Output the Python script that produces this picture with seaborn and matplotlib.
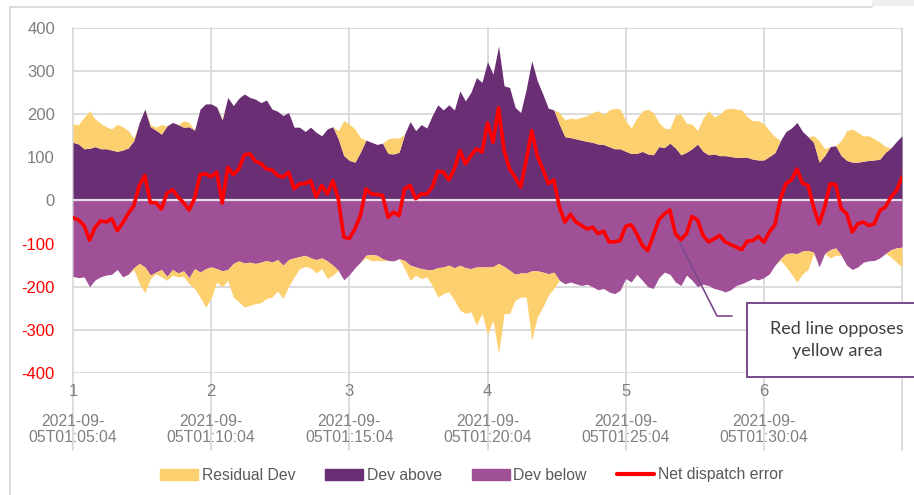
import numpy as np
import pandas as pd
import matplotlib
matplotlib.use("Agg")
import matplotlib.pyplot as plt
from matplotlib.patches import Patch, Rectangle
from matplotlib.lines import Line2D
import seaborn as sns

# ------------------------------------------------------------------
# data: 25 samples per 5-minute block, blocks 1..6
# ------------------------------------------------------------------
tick_nums = ["1", "2", "3", "4", "5", "6"]
tick_times = ["2021-09-\n05T01:05:04", "2021-09-\n05T01:10:04", "2021-09-\n05T01:15:04",
              "2021-09-\n05T01:20:04", "2021-09-\n05T01:25:04", "2021-09-\n05T01:30:04"]

# upper edge of "Dev above" (dark purple)
dev_above = [
    135, 131, 120, 121, 125, 120, 120, 117, 114, 117, 122, 139, 181, 212, 171, 163, 154, 173, 181, 176, 170, 171, 163, 212, 224,
    224, 217, 187, 239, 220, 237, 247, 239, 235, 227, 233, 212, 207, 197, 204, 170, 170, 160, 170, 158, 150, 166, 171, 143, 104,
    93, 89, 112, 140, 135, 130, 133, 109, 108, 112, 154, 183, 162, 176, 168, 197, 222, 210, 222, 210, 254, 231, 251, 285, 274,
    322, 293, 358, 266, 262, 216, 204, 258, 324, 278, 247, 214, 210, 177, 148, 146, 143, 140, 137, 135, 131, 130, 125, 120, 120,
    114, 109, 109, 114, 108, 106, 125, 123, 133, 122, 106, 112, 120, 131, 114, 106, 108, 104, 104, 102, 100, 100, 100, 96, 94,
    94, 102, 111, 139, 160, 168, 181, 160, 148, 135, 89, 104, 125, 127, 104, 93, 89, 89, 91, 93, 94, 96, 112, 122, 137, 150,
]
# upper edge of the yellow "Residual Dev" band (stacked on Dev above)
resid_top = [
    177, 176, 193, 208, 189, 179, 171, 166, 177, 171, 162, 145, 181, 212, 176, 170, 176, 173, 181, 176, 185, 181, 163, 212, 224,
    224, 217, 190, 239, 220, 237, 247, 239, 235, 227, 233, 212, 207, 197, 204, 170, 170, 160, 170, 158, 150, 166, 171, 162, 185,
    177, 166, 146, 140, 135, 130, 133, 143, 145, 145, 154, 183, 162, 176, 168, 197, 222, 210, 222, 210, 254, 231, 251, 285, 274,
    322, 293, 358, 266, 262, 216, 204, 258, 324, 278, 247, 214, 210, 204, 187, 191, 189, 193, 197, 204, 208, 199, 210, 214, 212,
    185, 168, 191, 207, 212, 204, 181, 168, 166, 199, 200, 179, 177, 162, 191, 208, 194, 200, 212, 214, 212, 210, 194, 185, 185,
    178, 162, 148, 139, 160, 168, 181, 160, 148, 150, 139, 120, 125, 127, 139, 162, 166, 158, 150, 150, 143, 135, 125, 122, 137, 150,
]
# lower edge of "Dev below" (light purple)
dev_below = [
    -176, -179, -177, -200, -184, -177, -173, -171, -160, -177, -171, -156, -146, -154, -173, -166, -160, -176, -160, -168, -163, -179, -158, -166, -158,
    -154, -158, -163, -160, -146, -140, -145, -143, -146, -143, -139, -143, -137, -150, -137, -133, -130, -127, -133, -137, -133, -140, -150, -162, -184,
    -172, -156, -143, -127, -125, -127, -135, -139, -140, -135, -139, -150, -154, -158, -160, -160, -156, -154, -150, -156, -150, -156, -158, -154, -154,
    -154, -153, -146, -153, -162, -171, -168, -168, -163, -163, -166, -170, -166, -185, -193, -189, -193, -197, -194, -200, -207, -204, -212, -216, -208,
    -181, -189, -171, -185, -200, -204, -179, -166, -171, -189, -197, -173, -185, -200, -194, -197, -204, -207, -212, -207, -197, -193, -187, -181, -184,
    -179, -170, -150, -135, -123, -122, -123, -117, -116, -120, -154, -123, -114, -110, -127, -150, -160, -154, -143, -140, -139, -133, -123, -114, -110, -108,
]
# lower edge of the yellow "Residual Dev" band (stacked under Dev below)
resid_bot = [
    -176, -179, -177, -200, -184, -177, -173, -171, -160, -177, -171, -160, -193, -214, -181, -170, -177, -185, -173, -177, -176, -193, -204, -224, -247,
    -227, -189, -200, -185, -224, -235, -247, -243, -239, -237, -227, -224, -210, -227, -200, -177, -158, -153, -156, -168, -158, -181, -173, -162, -184,
    -172, -156, -143, -133, -140, -139, -140, -139, -140, -135, -158, -185, -173, -181, -177, -197, -224, -216, -212, -231, -254, -262, -258, -289, -262,
    -310, -278, -355, -262, -262, -231, -224, -224, -324, -270, -247, -220, -204, -185, -193, -189, -193, -197, -194, -200, -207, -204, -212, -216, -208,
    -181, -189, -171, -185, -200, -204, -179, -166, -171, -189, -197, -173, -185, -200, -194, -197, -204, -207, -212, -207, -197, -193, -187, -181, -184,
    -179, -170, -150, -139, -153, -171, -189, -170, -160, -123, -154, -123, -133, -127, -127, -150, -160, -154, -143, -140, -139, -133, -123, -131, -143, -154,
]
# net dispatch error (red line)
net_error = [
    -40, -45, -58, -92, -62, -47, -50, -42, -70, -52, -30, -12, 35, 58, -5, -5, -20, 17, 25, 8, -5, -22, 5, 60, 62,
    55, 66, -6, 77, 60, 73, 106, 108, 91, 86, 73, 71, 58, 54, 66, 27, 39, 39, 46, 8, 35, 15, 46, 4, -85,
    -88, -66, -35, 27, 15, 14, 12, -39, -27, -35, 27, 35, 4, 15, 15, 31, 68, 66, 48, 73, 116, 85, 104, 120, 112,
    180, 135, 215, 116, 73, 54, 31, 93, 162, 104, 73, 39, 48, -15, -50, -32, -50, -58, -66, -62, -77, -71, -96, -96, -93,
    -60, -56, -77, -104, -116, -81, -45, -31, -22, -77, -91, -77, -37, -45, -81, -96, -89, -81, -96, -102, -108, -114, -94, -93, -83,
    -97, -73, -56, 4, 39, 48, 73, 40, 35, -15, -54, -15, 39, 37, -19, -31, -73, -54, -50, -58, -54, -23, -15, 8, 23, 54,
]

df = pd.DataFrame({
    "t": 1 + np.arange(len(net_error)) / 25,
    "dev_above": dev_above, "resid_top": resid_top,
    "dev_below": dev_below, "resid_bot": resid_bot,
    "net_error": net_error,
})

YELLOW = "#FDD06F"
DARK = "#692E74"
LIGHT = "#A05097"
RED = "#FF0000"
GRID = "#D9D9D9"
GRAY = "#7F7F7F"

sns.set_theme(style="white")
plt.rcParams["font.family"] = ["Liberation Sans", "DejaVu Sans"]

W, H = 914, 495
fig = plt.figure(figsize=(W / 100, H / 100), dpi=100)


def fx(x):
    return x / W


def fy(y):
    return 1 - y / H


ax = fig.add_axes([fx(73), fy(373), fx(902 - 73), (373 - 28) / H])
for s in ax.spines.values():
    s.set_visible(False)

# grid
for v in range(-400, 401, 100):
    ax.axhline(v, color=GRID, lw=1.3, zorder=0)
for t in range(1, 8):
    ax.plot([t, t], [-0.223, 1], transform=ax.get_xaxis_transform(),
            color=GRID, lw=1.3, clip_on=False, zorder=0)

# stacked areas
ax.fill_between(df.t, 0, df.dev_above, color=DARK, lw=0, zorder=2)
ax.fill_between(df.t, df.dev_above, df.resid_top, color=YELLOW, lw=0, zorder=2)
ax.fill_between(df.t, 0, df.dev_below, color=LIGHT, lw=0, zorder=2)
ax.fill_between(df.t, df.dev_below, df.resid_bot, color=YELLOW, lw=0, zorder=2)
ax.axhline(0, color="#E4DCE4", lw=1.6, zorder=3)

sns.lineplot(data=df, x="t", y="net_error", color=RED, lw=2.6, ax=ax, zorder=4, legend=False)

ax.set_xlim(1, 7)
ax.set_ylim(-400, 400)
ax.set_xlabel("")
ax.set_ylabel("")
ax.set_xticks([])
ax.set_yticks(range(-400, 401, 100))
ax.set_yticklabels([str(v) for v in range(-400, 401, 100)], fontsize=12)
ax.tick_params(axis="y", length=0, pad=13)
for lab, v in zip(ax.get_yticklabels(), range(-400, 401, 100)):
    lab.set_color(RED if v < 0 else GRAY)

xt = ax.get_xaxis_transform()
for i, (n, ts) in enumerate(zip(tick_nums, tick_times)):
    ax.text(i + 1, -0.055, n, transform=xt, ha="center", va="center", fontsize=12, color=GRAY)
    ax.text(i + 1, -0.163, ts, transform=xt, ha="center", va="center", fontsize=11.3,
            color=GRAY, linespacing=1.05)

# outer frame
fig.add_artist(Line2D([fx(10), fx(872)], [fy(7), fy(7)], color=GRID, lw=1.3))
fig.add_artist(Line2D([fx(10), fx(10)], [fy(7), 0], color=GRID, lw=1.3))
fig.add_artist(Rectangle((fx(872), fy(6)), fx(914 - 872), 6 / H, color="#EFEFEF", lw=0))

# callout
PURP = "#7A4A8C"
fig.add_artist(Line2D([fx(680), fx(717), fx(732)], [fy(243), fy(316), fy(316)], color=PURP, lw=1.2))
fig.add_artist(Rectangle((fx(747), fy(377)), fx(180), (377 - 303) / H, facecolor="white",
                         edgecolor=PURP, lw=1.4))
fig.text(fx(837), fy(340), "Red line opposes\nyellow area", ha="center", va="center",
         fontsize=13, color="#404040", family=["Lato", "DejaVu Sans"], linespacing=1.45)

# legend
handles = [Patch(color=YELLOW, label="Residual Dev"),
           Patch(color=DARK, label="Dev above"),
           Patch(color=LIGHT, label="Dev below"),
           Line2D([], [], color=RED, lw=3, label="Net dispatch error")]
fig.legend(handles=handles, loc="center", bbox_to_anchor=(fx(472), fy(475)), ncol=4,
           frameon=False, fontsize=11.3, handlelength=2.4, handleheight=0.7,
           handletextpad=0.25, columnspacing=1.9, labelcolor="#595959")

fig.savefig("out.png", dpi=100)
